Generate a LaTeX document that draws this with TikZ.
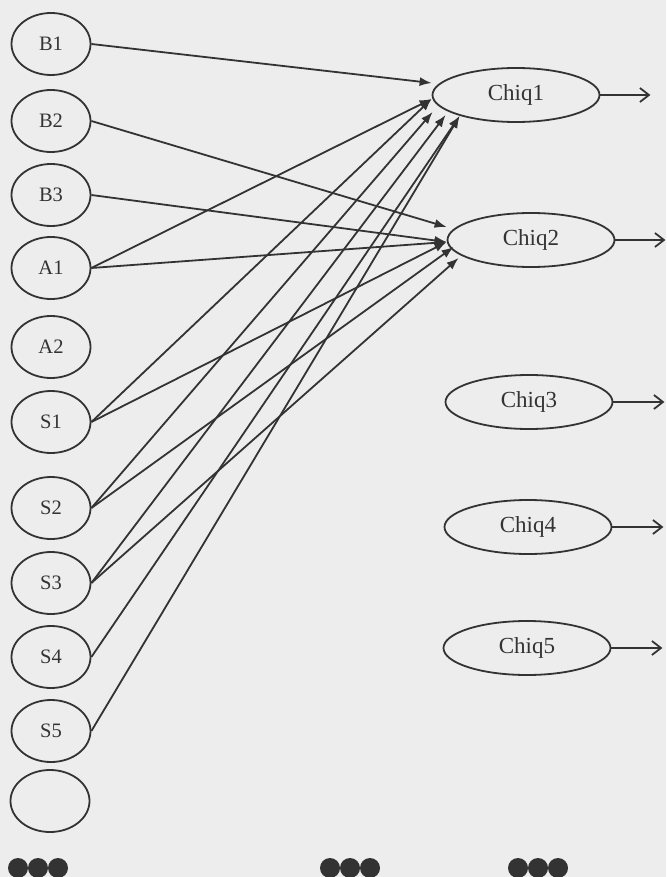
\documentclass[tikz,border=0pt]{standalone}
\usepackage{fontspec}
\setmainfont{Liberation Serif}
\usetikzlibrary{arrows.meta, positioning, shapes.geometric}
\definecolor{grisTinta}{HTML}{333333}
\definecolor{grisPapel}{HTML}{EDEDED}
\tikzset{
  elipseBase/.style={
    ellipse, draw=grisTinta, line width=1.8pt, inner sep=0pt,
    text=grisTinta
  },
  elipseEntrada/.style={elipseBase, minimum width=79pt, minimum height=62pt,
    font=\fontsize{20.5}{22}\selectfont},
  elipseChiq/.style={elipseBase, minimum width=167pt, minimum height=54pt,
    font=\fontsize{23}{25}\selectfont},
  flecha/.style={-{Latex[length=12pt,width=9pt]}, line width=1.8pt, grisTinta},
  flechaSalida/.style={-{Straight Barb[length=9pt,width=14pt]}, line width=1.8pt, grisTinta},
  puntoNegro/.style={circle, fill=grisTinta, minimum size=20pt, inner sep=0pt},
}

\begin{document}
\begin{tikzpicture}[x=1pt, y=-1pt]
    \fill[grisPapel] (0,0) rectangle (666,877);
    \useasboundingbox (0,0) rectangle (666,877);
    % entradas
    \node[elipseEntrada] (B1) at (51,44) {B1};
    \node[elipseEntrada] (B2) at (51,121) {B2};
    \node[elipseEntrada] (B3) at (51,195) {B3};
    \node[elipseEntrada] (A1) at (51,268) {A1};
    \node[elipseEntrada] (A2) at (51,347) {A2};
    \node[elipseEntrada] (S1) at (51,422) {S1};
    \node[elipseEntrada] (S2) at (51,508) {S2};
    \node[elipseEntrada] (S3) at (51,583) {S3};
    \node[elipseEntrada] (S4) at (51,657) {S4};
    \node[elipseEntrada] (S5) at (51,731) {S5};
    \node[elipseEntrada] (vacio) at (50,801) {};
    % salidas
    \node[elipseChiq] (Chiq1) at (516,95) {Chiq1};
    \node[elipseChiq] (Chiq2) at (531,240) {Chiq2};
    \node[elipseChiq] (Chiq3) at (529,402) {Chiq3};
    \node[elipseChiq] (Chiq4) at (528,527) {Chiq4};
    \node[elipseChiq] (Chiq5) at (527,648) {Chiq5};
    \coordinate[right=50pt of Chiq1] (sal1);
    \coordinate[right=50pt of Chiq2] (sal2);
    \coordinate[right=51pt of Chiq3] (sal3);
    \coordinate[right=51pt of Chiq4] (sal4);
    \coordinate[right=51pt of Chiq5] (sal5);
    % hacia Chiq1
    \draw[flecha] (B1.east) -- ([yshift=12pt]Chiq1.west);
    \draw[flecha] (A1.east) -- ([yshift=-4pt]Chiq1.west);
    \draw[flecha] (S1.east) -- ([yshift=-4pt]Chiq1.west);
    \draw[flecha] (S2.east) -- ([xshift=1pt, yshift=-17pt]Chiq1.west);
    \draw[flecha] (S3.east) -- ([xshift=14pt, yshift=-20pt]Chiq1.west);
    \draw[flecha] (S4.east) -- ([xshift=28pt, yshift=-21pt]Chiq1.west);
    \draw[flecha] (S5.east) -- ([xshift=28pt, yshift=-21pt]Chiq1.west);
    % hacia Chiq2
    \draw[flecha] (B2.east) -- ([yshift=13pt]Chiq2.west);
    \draw[flecha] (B3.east) -- ([yshift=-2pt]Chiq2.west);
    \draw[flecha] (A1.east) -- ([yshift=-2pt]Chiq2.west);
    \draw[flecha] (S1.east) -- ([yshift=-2pt]Chiq2.west);
    \draw[flecha] (S2.east) -- ([xshift=7pt, yshift=-7pt]Chiq2.west);
    \draw[flecha] (S3.east) -- ([xshift=12pt, yshift=-18pt]Chiq2.west);
    % salidas
    \draw[flechaSalida] (Chiq1) -- (sal1);
    \draw[flechaSalida] (Chiq2) -- (sal2);
    \draw[flechaSalida] (Chiq3) -- (sal3);
    \draw[flechaSalida] (Chiq4) -- (sal4);
    \draw[flechaSalida] (Chiq5) -- (sal5);
    % puntos suspensivos
    \foreach \x [count=\i] in {18,38,58,330,350,370,518,538,558}
      \node[puntoNegro] (punto\i) at (\x,868) {};
\end{tikzpicture}
\end{document}
